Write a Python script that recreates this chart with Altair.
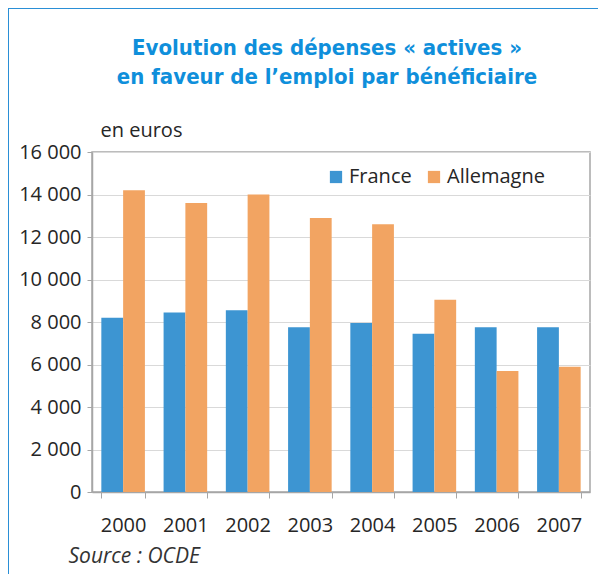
import altair as alt
import pandas as pd

years = ["2000", "2001", "2002", "2003", "2004", "2005", "2006", "2007"]
france = [8200, 8450, 8550, 7750, 7950, 7450, 7750, 7750]
allemagne = [14200, 13600, 14000, 12900, 12600, 9050, 5700, 5900]
series = ["France", "Allemagne"]
colors = ["#3d95d2", "#f2a462"]
y_ticks = [0, 2000, 4000, 6000, 8000, 10000, 12000, 14000, 16000]

rows = []
for i, yr in enumerate(years):
    rows.append({"annee": yr, "pays": "France", "valeur": france[i]})
    rows.append({"annee": yr, "pays": "Allemagne", "valeur": allemagne[i]})
df = pd.DataFrame(rows)

FONT = "Open Sans"
TEXT = "#262626"

bars = alt.Chart(df).mark_bar().encode(
    x=alt.X("annee:N", sort=years,
            scale=alt.Scale(paddingInner=0.3, paddingOuter=0.15),
            axis=alt.Axis(title="Source : OCDE", titleX=-24, titleY=64,
                          titleAlign="left", titleBaseline="middle",
                          titleFontStyle="italic", titleFontWeight="normal",
                          titleFontSize=21, titleColor="#333333",
                          titleFont=FONT, labelAngle=0, labelFontSize=20,
                          labelFont=FONT, labelColor=TEXT,
                          labelPadding=17, tickSize=6, tickBand="extent",
                          tickColor="#a6a6a6", domainColor="#a6a6a6",
                          domainWidth=1.5)),
    xOffset=alt.XOffset("pays:N", sort=series),
    y=alt.Y("valeur:Q",
            scale=alt.Scale(domain=[0, 16000], nice=False),
            axis=alt.Axis(values=y_ticks, title="en euros", titleAngle=0,
                          titleX=8, titleY=-16, titleAlign="left",
                          titleBaseline="alphabetic", titleFontSize=20,
                          titleFontWeight="normal", titleFont=FONT,
                          titleColor=TEXT,
                          labelExpr="replace(format(datum.value, ','), ',', ' ')",
                          labelFontSize=20, labelFont=FONT,
                          labelColor=TEXT, labelPadding=6, tickSize=5,
                          tickColor="#a6a6a6", domainColor="#a6a6a6",
                          domainWidth=1.5, gridColor="#d9d9d9",
                          gridWidth=1.2)),
    color=alt.Color("pays:N", sort=series,
                    scale=alt.Scale(domain=series, range=colors),
                    legend=alt.Legend(title=None, orient="none", legendX=234,
                                      legendY=15, direction="horizontal",
                                      symbolType="square", symbolSize=150,
                                      symbolStrokeWidth=0, labelFontSize=20,
                                      labelFont=FONT, labelColor=TEXT,
                                      columnPadding=12, labelOffset=3)),
)

frame_left = alt.Chart(df).mark_rule(color="#2a8fd6", strokeWidth=2).encode(
    x=alt.value(-84), y=alt.value(-144), y2=alt.value(440))
frame_top = alt.Chart(df).mark_rule(color="#2a8fd6", strokeWidth=2).encode(
    x=alt.value(-84), x2=alt.value(520), y=alt.value(-144))

chart = alt.layer(bars, frame_left, frame_top).properties(
    width=498, height=340,
    autosize=alt.AutoSizeParams(type="none"),
    padding={"left": 84, "top": 144, "right": 8, "bottom": 82},
    title=alt.TitleParams(
        text=["Evolution des dépenses « actives »",
              "en faveur de l’emploi par bénéficiaire"],
        font="DejaVu Sans Condensed, Roboto Condensed, Roboto, sans-serif",
        fontSize=22, fontWeight="bold",
        color="#0f8fdb", anchor="middle", frame="group", dx=-14,
        offset=0, dy=82, lineHeight=29),
).configure_view(stroke="#a6a6a6", strokeWidth=1.5)

chart.save("out.html", embed_options={"renderer": "svg", "actions": False})
